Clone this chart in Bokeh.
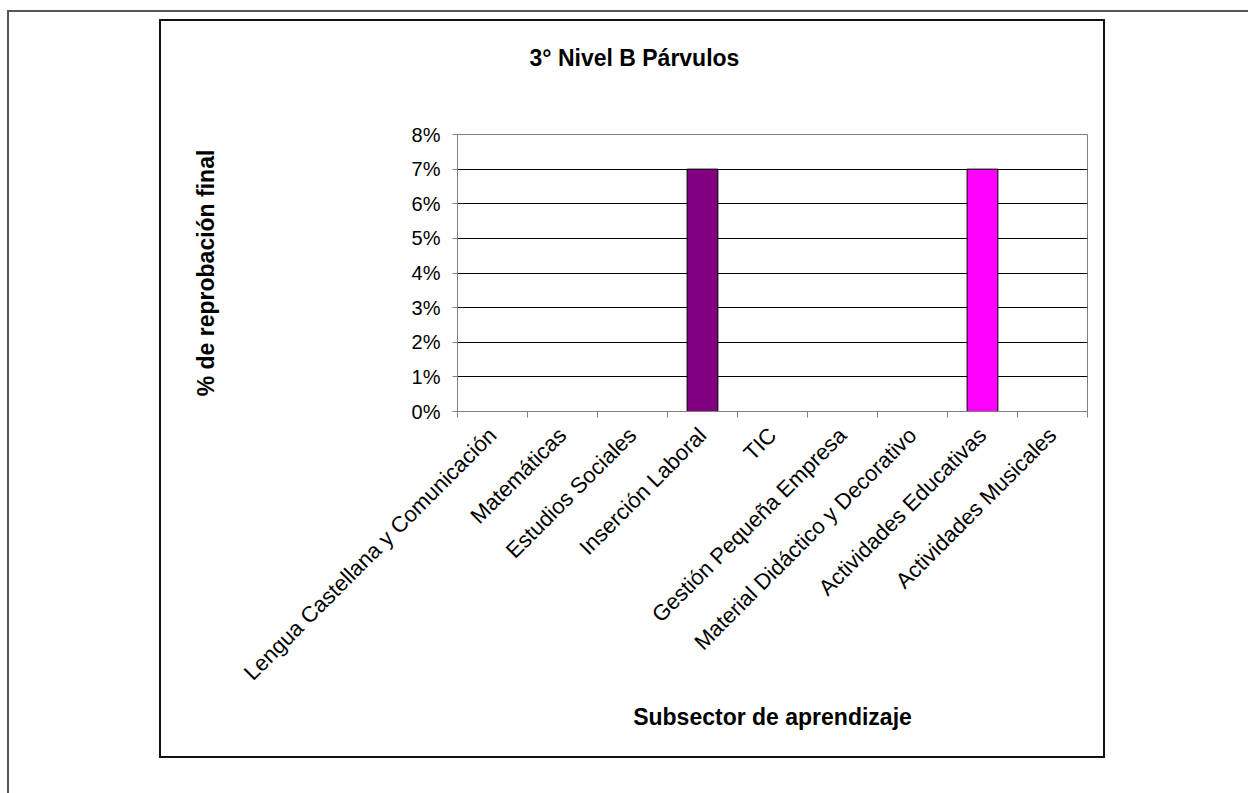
import math
from bokeh.plotting import figure
from bokeh.models import (Range1d, FixedTicker, NumeralTickFormatter,
                          ColumnDataSource, Title)
from bokeh.embed import file_html
from bokeh.resources import INLINE

categories = [
    "Lengua Castellana y Comunicación",
    "Matemáticas",
    "Estudios Sociales",
    "Inserción Laboral",
    "TIC",
    "Gestión Pequeña Empresa",
    "Material Didáctico y Decorativo",
    "Actividades Educativas",
    "Actividades Musicales",
]
values = [0.0, 0.0, 0.0, 0.07, 0.0, 0.0, 0.0, 0.07, 0.0]
bar_colors = ["#9999FF", "#993366", "#FFFFCC", "#800080", "#660066",
              "#FF8080", "#0066CC", "#FF00FF", "#000080"]
y_ticks = [0.0, 0.01, 0.02, 0.03, 0.04, 0.05, 0.06, 0.07, 0.08]
title_text = "3° Nivel B Párvulos"
x_title = "Subsector de aprendizaje"
y_title = "% de reprobación final"

FONT = "Liberation Sans"

x_pos = [i + 0.5 for i in range(len(categories))]
src = ColumnDataSource(dict(x=x_pos, top=values, color=bar_colors))

W, H = 942, 735
p = figure(width=W, height=H, output_backend="svg", toolbar_location=None,
           x_range=Range1d(0, len(categories)), y_range=Range1d(0, y_ticks[-1]),
           min_border_left=296, min_border_right=16,
           min_border_top=113, min_border_bottom=345,
           margin=(21, 0, 0, 161), title=title_text)
p.styles = {
    "outline": "2px solid #111111",
    "box-shadow": "248px 391px 0 400px #ffffff, 246px 389px 0 400px #555555",
}
p.outline_line_color = "#808080"
p.outline_line_width = 1
p.background_fill_color = "white"
p.border_fill_color = "white"

p.title.align = "left"
p.title.offset = 72
p.title.standoff = 46
p.title.vertical_align = "top"
p.title.text_font = FONT
p.title.text_font_size = "23px"
p.title.text_font_style = "bold"
p.title.text_color = "black"

# empty spacer panel between the title and the plot area
p.add_layout(Title(text=" ", text_font_size="1px", standoff=36), "above")

p.vbar(x="x", top="top", bottom=0, width=0.44, source=src,
       fill_color="color", line_color="black", line_width=1)

# x axis
p.xaxis.ticker = FixedTicker(ticks=x_pos, minor_ticks=list(range(len(categories) + 1)))
overrides = {}
for xp, name in zip(x_pos, categories):
    overrides[xp] = name
    overrides[str(xp)] = name
p.xaxis.major_label_overrides = overrides
p.xaxis.major_label_orientation = math.pi / 4
p.xaxis.major_tick_line_color = None
p.xaxis.minor_tick_line_color = "#808080"
p.xaxis.minor_tick_in = 0
p.xaxis.minor_tick_out = 6
p.xaxis.axis_line_color = "#808080"
p.xaxis.major_label_text_font = FONT
p.xaxis.major_label_text_font_size = "22px"
p.xaxis.major_label_text_color = "black"
p.xaxis.major_label_standoff = 14
p.xaxis.axis_label = x_title
p.xaxis.axis_label_text_font = FONT
p.xaxis.axis_label_text_font_size = "23px"
p.xaxis.axis_label_text_font_style = "bold"
p.xaxis.axis_label_text_color = "black"
p.xaxis.axis_label_standoff = 7

# y axis
p.yaxis.ticker = FixedTicker(ticks=y_ticks)
p.yaxis.formatter = NumeralTickFormatter(format="0%")
p.yaxis.major_tick_in = 0
p.yaxis.major_tick_out = 5
p.yaxis.minor_tick_line_color = None
p.yaxis.major_tick_line_color = "#808080"
p.yaxis.axis_line_color = "#808080"
p.yaxis.major_label_text_font = FONT
p.yaxis.major_label_text_font_size = "20px"
p.yaxis.major_label_text_color = "black"
p.yaxis.major_label_standoff = 12
p.yaxis.axis_label = y_title
p.yaxis.axis_label_text_font = FONT
p.yaxis.axis_label_text_font_size = "23px"
p.yaxis.axis_label_text_font_style = "bold"
p.yaxis.axis_label_text_color = "black"
p.yaxis.axis_label_standoff = 190

p.xgrid.visible = False
p.ygrid.grid_line_color = "black"
p.ygrid.grid_line_width = 1

open("out.html", "w").write(file_html(p, INLINE))
